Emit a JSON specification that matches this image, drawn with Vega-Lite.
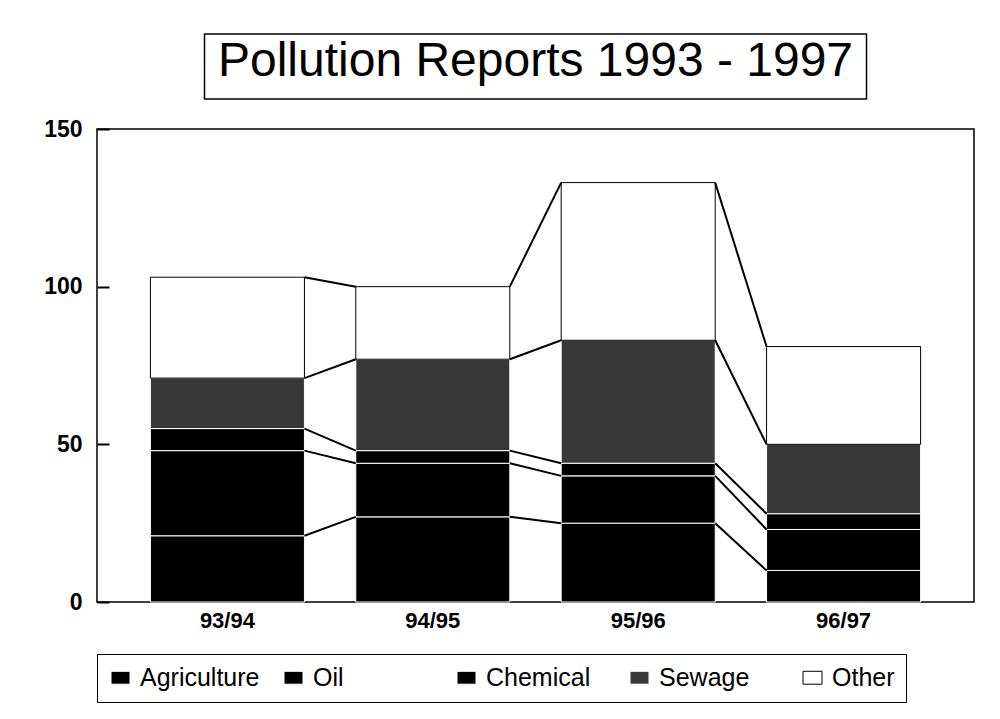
{
  "$schema": "https://vega.github.io/schema/vega-lite/v6.json",
  "background": "white",
  "padding": {"left": 42, "top": 33, "right": 5, "bottom": 5},
  "bounds": "flush",
  "center": true,
  "spacing": 30,
  "config": {"font": "Liberation Sans"},
  "vconcat": [
    {
      "width": 662,
      "height": 65,
      "view": {"stroke": "black", "strokeWidth": 1.5},
      "data": {"values": [{"t": "Pollution Reports 1993 - 1997"}]},
      "mark": {"type": "text", "fontSize": 48, "font": "Liberation Sans", "align": "center", "baseline": "alphabetic", "dy": 9, "color": "black"},
      "encoding": {"text": {"field": "t", "type": "nominal"}}
    },
    {
      "width": 877,
      "height": 473,
      "view": {"stroke": "black", "strokeWidth": 1.5},
      "data": {
        "values": [
          {"period": "93/94", "type": "Agriculture", "typeOrder": 1, "value": 21},
          {"period": "93/94", "type": "Oil", "typeOrder": 2, "value": 27},
          {"period": "93/94", "type": "Chemical", "typeOrder": 3, "value": 7},
          {"period": "93/94", "type": "Sewage", "typeOrder": 4, "value": 16},
          {"period": "93/94", "type": "Other", "typeOrder": 5, "value": 32},
          {"period": "94/95", "type": "Agriculture", "typeOrder": 1, "value": 27},
          {"period": "94/95", "type": "Oil", "typeOrder": 2, "value": 17},
          {"period": "94/95", "type": "Chemical", "typeOrder": 3, "value": 4},
          {"period": "94/95", "type": "Sewage", "typeOrder": 4, "value": 29},
          {"period": "94/95", "type": "Other", "typeOrder": 5, "value": 23},
          {"period": "95/96", "type": "Agriculture", "typeOrder": 1, "value": 25},
          {"period": "95/96", "type": "Oil", "typeOrder": 2, "value": 15},
          {"period": "95/96", "type": "Chemical", "typeOrder": 3, "value": 4},
          {"period": "95/96", "type": "Sewage", "typeOrder": 4, "value": 39},
          {"period": "95/96", "type": "Other", "typeOrder": 5, "value": 50},
          {"period": "96/97", "type": "Agriculture", "typeOrder": 1, "value": 10},
          {"period": "96/97", "type": "Oil", "typeOrder": 2, "value": 13},
          {"period": "96/97", "type": "Chemical", "typeOrder": 3, "value": 5},
          {"period": "96/97", "type": "Sewage", "typeOrder": 4, "value": 22},
          {"period": "96/97", "type": "Other", "typeOrder": 5, "value": 31}
        ]
      },
      "layer": [
        {
          "mark": {"type": "bar", "strokeWidth": 1},
          "encoding": {
            "x": {
              "field": "period", "type": "nominal", "title": null,
              "scale": {"type": "band", "paddingInner": 0.25, "paddingOuter": 0.26},
              "axis": {"labelAngle": 0, "ticks": false, "domain": false, "labelFontSize": 22, "labelFontWeight": "bold", "labelColor": "black", "labelPadding": 8, "labelFont": "Liberation Sans"}
            },
            "y": {
              "field": "value", "type": "quantitative", "stack": "zero", "title": null,
              "scale": {"domain": [0, 150], "nice": false},
              "axis": {"values": [0, 50, 100, 150], "grid": false, "domain": false, "offset": -12, "tickSize": 12, "tickWidth": 2, "tickColor": "black", "labelPadding": 15, "labelFontSize": 23, "labelFontWeight": "bold", "labelColor": "black", "labelFont": "Liberation Sans"}
            },
            "color": {
              "field": "type", "type": "nominal",
              "scale": {"domain": ["Agriculture", "Oil", "Chemical", "Sewage", "Other"], "range": ["#000000", "#000000", "#000000", "#383838", "#ffffff"]},
              "legend": {
                "orient": "bottom", "direction": "horizontal", "columns": 5, "title": null,
                "symbolType": "M-1,-0.68L1,-0.68L1,0.68L-1,0.68Z", "symbolSize": 361,
                "symbolStrokeColor": "black", "symbolStrokeWidth": 1,
                "labelFontSize": 25, "labelFont": "Liberation Sans", "labelColor": "black", "labelOffset": 7, "labelLimit": 300,
                "columnPadding": 21, "gridAlign": "all",
                "strokeColor": "black", "fillColor": "white", "padding": 11, "offset": 22
              }
            },
            "stroke": {
              "field": "type", "type": "nominal",
              "scale": {"domain": ["Agriculture", "Oil", "Chemical", "Sewage", "Other"], "range": ["#ffffff", "#ffffff", "#ffffff", "#ffffff", "#000000"]},
              "legend": null
            },
            "order": {"field": "typeOrder", "type": "quantitative"}
          }
        },
        {
          "transform": [
            {"stack": "value", "groupby": ["period"], "sort": [{"field": "typeOrder", "order": "ascending"}], "as": ["v0", "v1"]},
            {"window": [{"op": "lead", "field": "v1", "as": "nv1"}, {"op": "lead", "field": "period", "as": "np"}], "groupby": ["type"], "sort": [{"field": "period", "order": "ascending"}]},
            {"filter": "datum.np != null"}
          ],
          "mark": {"type": "rule", "color": "black", "strokeWidth": 2},
          "encoding": {
            "x": {"field": "period", "type": "nominal", "bandPosition": 1, "title": null, "scale": {"type": "band", "paddingInner": 0.25, "paddingOuter": 0.26}},
            "x2": {"field": "np", "bandPosition": 0},
            "y": {"field": "v1", "type": "quantitative", "title": null},
            "y2": {"field": "nv1"}
          }
        }
      ]
    }
  ]
}
